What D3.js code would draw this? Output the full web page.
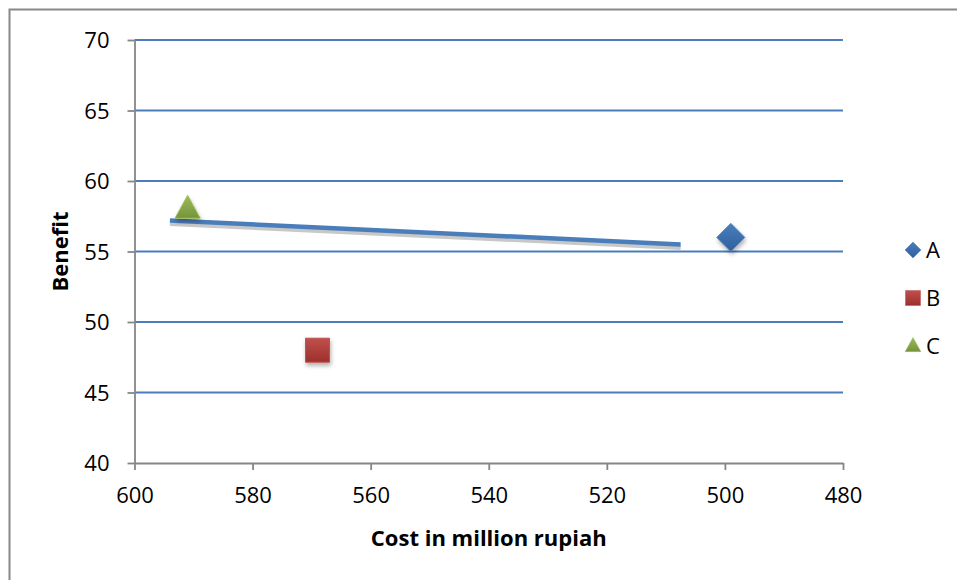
<!DOCTYPE html>
<html>
<head>
<meta charset="utf-8">
<script src="https://d3js.org/d3.v7.min.js"></script>
<style>
  body { margin: 0; background: #fff; }
  text { font-family: "Open Sans", "Noto Sans", sans-serif; fill: #000; }
</style>
</head>
<body>
<div id="chart"></div>
<script>
// data
var seriesNames = ["A", "B", "C"];
var costValues = [499, 569, 591];
var benefitValues = [56, 48, 58];
var xTicks = [600, 580, 560, 540, 520, 500, 480];
var yTicks = [40, 45, 50, 55, 60, 65, 70];
var trendCost = [594, 507.5];
var trendBenefit = [57.2, 55.5];

var colors = { A: "#4a7ebb", B: "#c0504d", C: "#9bbb59" };
var darker = { A: "#2f5f9e", B: "#9c2f2c", C: "#76933c" };

var svg = d3.select("#chart").append("svg")
  .attr("width", 957).attr("height", 580);

var defs = svg.append("defs");
seriesNames.forEach(function (s) {
  var g = defs.append("linearGradient").attr("id", "grad" + s)
    .attr("x1", 0).attr("y1", 0).attr("x2", 0).attr("y2", 1);
  g.append("stop").attr("offset", "0%").attr("stop-color", colors[s]);
  g.append("stop").attr("offset", "100%").attr("stop-color", darker[s]);
});
var f = defs.append("filter").attr("id", "shadow")
  .attr("x", "-50%").attr("y", "-50%").attr("width", "200%").attr("height", "200%");
f.append("feDropShadow").attr("dx", 1).attr("dy", 3).attr("stdDeviation", 2)
  .attr("flood-color", "#000").attr("flood-opacity", 0.3);

// outer chart border
svg.append("rect").attr("x", 9.5).attr("y", 9.5)
  .attr("width", 960).attr("height", 600)
  .attr("fill", "none").attr("stroke", "#888").attr("stroke-width", 2);

var x = d3.scaleLinear().domain([600, 480]).range([134.5, 843]);
var y = d3.scaleLinear().domain([40, 70]).range([463, 40]);

// gridlines
svg.append("g").selectAll("line")
  .data(yTicks.filter(function (d) { return d > 40; }))
  .enter().append("line")
  .attr("x1", x(600)).attr("x2", x(480))
  .attr("y1", function (d) { return y(d); })
  .attr("y2", function (d) { return y(d); })
  .attr("stroke", "#4a7ebb").attr("stroke-width", 1.8);

// axes
var yAxis = svg.append("g").attr("transform", "translate(" + x(600) + ",0)")
  .call(d3.axisLeft(y).tickValues(yTicks).tickSize(7).tickPadding(18).tickSizeOuter(0));
var xAxis = svg.append("g").attr("transform", "translate(0," + y(40) + ")")
  .call(d3.axisBottom(x).tickValues(xTicks).tickSize(7).tickPadding(17).tickSizeOuter(0));
[xAxis, yAxis].forEach(function (a) {
  a.select(".domain").attr("stroke", "#868686").attr("stroke-width", 1.8);
  a.selectAll(".tick line").attr("stroke", "#868686").attr("stroke-width", 1.8);
  a.selectAll(".tick text").style("font-size", "22px")
    .style("font-family", "'Open Sans', sans-serif").attr("fill", "#000");
});
yAxis.selectAll(".tick text").attr("dy", "0.35em");

// trend line with shadow
var trendData = trendCost.map(function (c, i) { return [c, trendBenefit[i]]; });
var line = d3.line().x(function (d) { return x(d[0]); }).y(function (d) { return y(d[1]); });
svg.append("path").datum(trendData).attr("d", line)
  .attr("transform", "translate(0,3)")
  .attr("stroke", "#c8c8c8").attr("stroke-width", 5).attr("fill", "none");
svg.append("path").datum(trendData).attr("d", line)
  .attr("stroke", "#4a7ebb").attr("stroke-width", 4.5).attr("fill", "none");

// markers
function markerPath(s, size) {
  if (s === "A") {
    return "M0," + (-size) + "L" + size + ",0L0," + size + "L" + (-size) + ",0Z";
  }
  if (s === "B") {
    return "M" + (-size) + "," + (-size) + "h" + 2 * size + "v" + 2 * size + "h" + (-2 * size) + "Z";
  }
  return "M0," + (-size * 1.15) + "L" + (size * 1.05) + "," + (size * 0.75) + "L" + (-size * 1.05) + "," + (size * 0.75) + "Z";
}
var markerSize = { A: 14, B: 12, C: 12 };
svg.append("g").selectAll("path")
  .data(seriesNames).enter().append("path")
  .attr("transform", function (d, i) {
    return "translate(" + x(costValues[i]) + "," + y(benefitValues[i]) + ")";
  })
  .attr("d", function (d) { return markerPath(d, markerSize[d]); })
  .attr("fill", function (d) { return "url(#grad" + d + ")"; })
  .attr("stroke", function (d) { return colors[d]; })
  .attr("stroke-width", 1)
  .attr("filter", "url(#shadow)");

// legend
var legend = svg.append("g").selectAll("g")
  .data(seriesNames).enter().append("g")
  .attr("transform", function (d, i) { return "translate(913," + (250 + i * 48) + ")"; });
legend.append("path")
  .attr("d", function (d) { return markerPath(d, d === "A" ? 8 : 7.5); })
  .attr("fill", function (d) { return "url(#grad" + d + ")"; })
  .attr("stroke", function (d) { return colors[d]; })
  .attr("stroke-width", 0.5);
legend.append("text").attr("x", 13).attr("dy", "0.35em")
  .style("font-size", "22px").text(function (d) { return d; });

// axis titles
svg.append("text").attr("x", x(540)).attr("y", 546)
  .attr("text-anchor", "middle").style("font-size", "22px").style("font-weight", "bold")
  .text("Cost in million rupiah");
svg.append("text").attr("transform", "translate(68," + y(55) + ") rotate(-90)")
  .attr("text-anchor", "middle").style("font-size", "22px").style("font-weight", "bold")
  .text("Benefit");
</script>
</body>
</html>
